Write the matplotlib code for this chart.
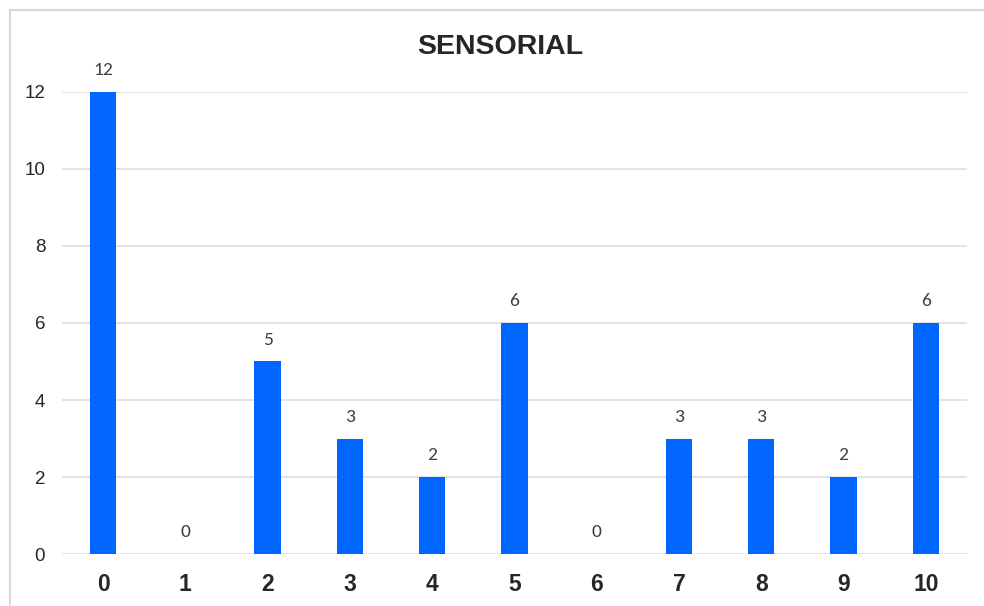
import matplotlib
matplotlib.use("Agg")
import matplotlib.pyplot as plt
from matplotlib.lines import Line2D

categories = ["0", "1", "2", "3", "4", "5", "6", "7", "8", "9", "10"]
values = [12, 0, 5, 3, 2, 6, 0, 3, 3, 2, 6]
yticks = [0, 2, 4, 6, 8, 10, 12]
title = "SENSORIAL"

plt.rcParams['font.family'] = ['Liberation Sans', 'DejaVu Sans']

fig = plt.figure(figsize=(9.84, 6.06), dpi=100)
ax = fig.add_axes([0.0629, 0.0858, 0.9198, 0.7624])

x = list(range(len(categories)))
bars = ax.bar(x, values, width=0.32, color="#0066FF", zorder=3)

ax.set_xlim(-0.5, len(categories) - 0.5)
ax.set_ylim(0, 12)
ax.set_yticks(yticks)
ax.set_yticklabels([str(v) for v in yticks], fontsize=13.5, color="#262626")
ax.set_xticks(x)
ax.set_xticklabels(categories, fontsize=16.5, fontweight="bold", color="#262626")
ax.tick_params(axis="both", length=0)
ax.tick_params(axis="y", pad=12)
ax.tick_params(axis="x", pad=14)
for s in ax.spines.values():
    s.set_visible(False)
ax.grid(axis="y", color="#dedede", linewidth=1.2, zorder=0)
ax.set_axisbelow(True)

for xi, v in zip(x, values):
    ax.annotate(str(v), (xi, v), xytext=(0, 15.5), textcoords="offset points",
                ha="center", va="center", fontsize=14, color="#404040",
                family=["Carlito", "Liberation Sans", "DejaVu Sans"],
                annotation_clip=False)

fig.text(0.508, 0.922, title, ha="center", va="center", fontsize=20.5,
         fontweight="bold", color="#262626")

# chart border (top and left)
fig.add_artist(Line2D([9.5/984, 9.5/984], [0, 1 - 9.5/606], color="#d9d9d9", linewidth=1.5, transform=fig.transFigure))
fig.add_artist(Line2D([9.5/984, 1], [1 - 9.5/606, 1 - 9.5/606], color="#d9d9d9", linewidth=1.5, transform=fig.transFigure))

fig.savefig("out.png", dpi=100)
